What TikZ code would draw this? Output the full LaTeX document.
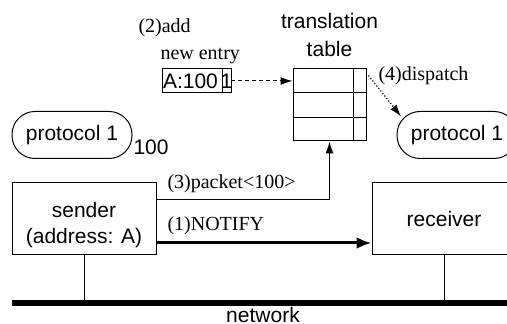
\documentclass[tikz,border=0pt]{standalone}
\usepackage{fontspec}
\setmainfont{Liberation Sans}
\newfontfamily\lblfont{Liberation Serif}
\usetikzlibrary{shapes,arrows,arrows.meta,positioning}
\tikzstyle{host} = [rectangle, draw, minimum width=72pt, minimum height=36pt]
\tikzstyle{proto} = [rectangle, draw, rounded corners=11.5pt, minimum width=60pt, minimum height=23.5pt]
\tikzstyle{cell} = [rectangle, draw, inner xsep=0.5pt, inner ysep=0pt, outer sep=0pt, minimum height=12pt]
\tikzstyle{lbl} = [font=\lblfont, inner sep=0pt, anchor=base west]
\tikzstyle{line} = [draw, -{Latex[length=6pt,width=4pt]}]

\begin{document}
\begin{tikzpicture}[x=0.5pt, y=-0.5pt, line width=0.5pt, font=\fontsize{10.5}{13}\selectfont]
	\useasboundingbox (0,0) rectangle (507,324);
	\clip (0,0) rectangle (507,324);

	% hosts and network
	\node [host] (sender) at (84,219) {};
	\node [align=center] (sendertxt) at (84,225.5) {sender\\(address: A)};
	\node [host] (receiver) at (444,219) {receiver};
	\coordinate (netl) at (12,303);
	\coordinate (netr) at (512,303);
	\draw [line width=2.75pt] (netl) -- (netr);
	\node [inner sep=0pt] (network) at (263,315) {network};
	\draw (sender.south) -- (sender.south |- netl);
	\draw (receiver.south) -- (receiver.south |- netl);

	% protocols
	\node [proto] (protol) at (72,135) {protocol 1};
	\node [inner sep=0pt, anchor=base west] (port) at (133,155) {100};
	\node [proto] (protor) at (457,135) {protocol 1};

	% translation table
	\node [draw, inner sep=0pt, minimum width=36.5pt, minimum height=36pt] (table) at (329.5,105) {};
	\draw ([yshift=-12pt]table.north west) -- ([yshift=-12pt]table.north east);
	\draw ([yshift=12pt]table.south west) -- ([yshift=12pt]table.south east);
	\draw ([xshift=-6.5pt]table.north east) -- ([xshift=-6.5pt]table.south east);
	\node [align=center, inner sep=0pt, above=5.5pt of table] (tabletitle) {translation\\[1pt]table};

	% new entry
	\node [cell, text width=29pt, align=left] (entry) at (192,81) {A:100};
	\node [cell, minimum width=4.5pt, inner xsep=0pt, right=0pt of entry] (flag) {\makebox[4.5pt]{1}};

	% labels
	\node [lbl] (addlbl) at (138,33) {(2)add};
	\node [lbl] (entrylbl) at (160,60) {new entry};
	\node [lbl] (dispatchlbl) at (378,81) {(4)dispatch};
	\node [lbl] (packetlbl) at (167,189) {(3)packet<100>};
	\node [lbl] (notifylbl) at (167,231) {(1)NOTIFY};

	% messages
	\path [line, dash pattern=on 2pt off 1.5pt] (flag.east) -- (flag.east -| table.west);
	\path [line, line width=0.6pt, dash pattern=on 0.6pt off 1pt] ([shift={(2,7)}]table.north east) -- ([shift={(4.5,-18.5)}]protor.west);
	\path [line] ([yshift=9.5pt]sender.east) -| (table.south);
	\path [draw, line width=1.5pt, -{Latex[length=7.5pt,width=6pt]}] ([yshift=-12pt]sender.east) -- ([yshift=-12pt]receiver.west);
\end{tikzpicture}
\end{document}
